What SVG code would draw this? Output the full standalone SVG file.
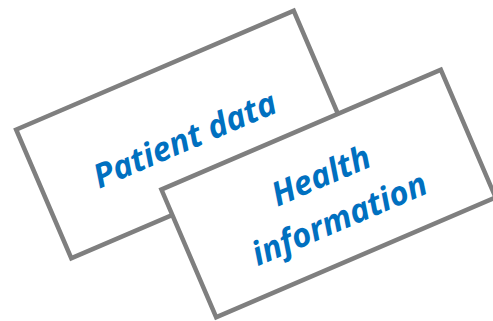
<svg xmlns="http://www.w3.org/2000/svg" width="493" height="321" viewBox="0 0 493 321">
  <style>
    .card { fill: #ffffff; stroke: #7f7f7f; stroke-width: 4.5; stroke-linejoin: miter; }
    .label { fill: #0070c0; font-family: "Open Sans", "Noto Sans", sans-serif; font-weight: bold; font-style: italic; font-size: 33px; text-anchor: middle; }
  </style>
  <rect width="493" height="321" fill="#ffffff"/>
  <g id="connectors"/>
  <g id="patient-data" transform="translate(182.5,134.5) rotate(-23.2)">
    <rect class="card" x="-151" y="-70" width="302" height="140"/>
    <text class="label" x="0" y="17">Patient data</text>
  </g>
  <g id="health-information" transform="translate(328.5,193.5) rotate(-23.2)">
    <rect class="card" x="-152" y="-69.5" width="304" height="139"/>
    <text class="label" x="0" y="-8">Health</text>
    <text class="label" x="0" y="39">information</text>
  </g>
</svg>
